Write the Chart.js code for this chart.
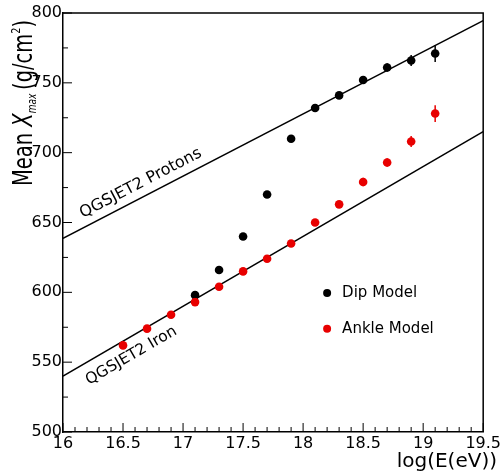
<!DOCTYPE html>
<html>
<head>
<meta charset="utf-8">
<script src="https://cdn.jsdelivr.net/npm/chart.js@4.4.1/dist/chart.umd.min.js"></script>
<style>
  html, body { margin: 0; padding: 0; background: #fff; }
  #chart { display: block; }
</style>
</head>
<body>
<canvas id="chart" width="503" height="473"></canvas>
<script>
// Dip model (black points)
const dipEnergy = [17.1, 17.3, 17.5, 17.7, 17.9, 18.1, 18.3, 18.5, 18.7, 18.9, 19.1];
const dipXmax   = [598, 616, 640, 670, 710, 732, 741, 752, 761, 766, 771];
const dipErr    = [2, 2, 2, 2, 2, 2, 2, 2, 3, 4, 6];

// Ankle model (red points)
const ankleEnergy = [16.5, 16.7, 16.9, 17.1, 17.3, 17.5, 17.7, 17.9, 18.1, 18.3, 18.5, 18.7, 18.9, 19.1];
const ankleXmax   = [562, 574, 584, 593, 604, 615, 624, 635, 650, 663, 679, 693, 708, 728];
const ankleErr    = [2, 2, 2, 2, 2, 2, 2, 2, 2, 2, 3, 3, 4, 6];

// QGSJET2 predictions (straight lines)
const lineEnergy = [16, 19.5];
const protonXmax = [638.6, 794.5];
const ironXmax   = [540, 715];

// axis ticks
const xMajor = [16, 16.5, 17, 17.5, 18, 18.5, 19, 19.5];
const yMajor = [500, 550, 600, 650, 700, 750, 800];
const xMinorStep = 0.1;
const yMinorStep = 25;

const FONT = '"DejaVu Sans", sans-serif';
const RED = '#e80000';

function pts(xs, ys) {
    return xs.map((x, i) => ({ x: x, y: ys[i] }));
}

// ROOT-style extras: frame, inner ticks, error bars, labels, legend
const decorations = {
    id: 'decorations',
    afterDatasetsDraw(chart) {
        const ctx = chart.ctx;
        const xs = chart.scales.x, ys = chart.scales.y;
        const a = chart.chartArea;

        ctx.save();
        ctx.strokeStyle = '#000';
        ctx.lineWidth = 1.5;
        ctx.beginPath();
        ctx.moveTo(a.left, a.top);
        ctx.lineTo(a.right, a.top);
        ctx.lineTo(a.right, a.bottom);
        ctx.stroke();

        // inner ticks, bottom axis
        ctx.lineWidth = 1;
        ctx.beginPath();
        for (let v = 16; v <= 19.5001; v += xMinorStep) {
            const isMajor = xMajor.some(m => Math.abs(m - v) < 1e-6);
            const px = xs.getPixelForValue(v);
            ctx.moveTo(px, a.bottom);
            ctx.lineTo(px, a.bottom - (isMajor ? 9 : 5));
        }
        // inner ticks, left axis
        for (let v = 500; v <= 800; v += yMinorStep) {
            const isMajor = yMajor.includes(v);
            const py = ys.getPixelForValue(v);
            ctx.moveTo(a.left, py);
            ctx.lineTo(a.left + (isMajor ? 9 : 5), py);
        }
        ctx.stroke();

        // error bars
        ctx.lineWidth = 1.5;
        const bars = [[dipEnergy, dipXmax, dipErr, '#000'], [ankleEnergy, ankleXmax, ankleErr, RED]];
        bars.forEach(([ex, ey, ee, col]) => {
            ctx.strokeStyle = col;
            ctx.beginPath();
            ex.forEach((x, i) => {
                const px = xs.getPixelForValue(x);
                ctx.moveTo(px, ys.getPixelForValue(ey[i] - ee[i]));
                ctx.lineTo(px, ys.getPixelForValue(ey[i] + ee[i]));
            });
            ctx.stroke();
        });

        // labels along the model lines
        function lineLabel(yv, text, xVal, offset, baseline, size) {
            const x0 = xs.getPixelForValue(lineEnergy[0]), y0 = ys.getPixelForValue(yv[0]);
            const x1 = xs.getPixelForValue(lineEnergy[1]), y1 = ys.getPixelForValue(yv[1]);
            const ang = Math.atan2(y1 - y0, x1 - x0);
            const px = xs.getPixelForValue(xVal);
            const py = y0 + (px - x0) * (y1 - y0) / (x1 - x0);
            ctx.save();
            ctx.translate(px, py);
            ctx.rotate(ang);
            ctx.fillStyle = '#000';
            ctx.font = size + 'px ' + FONT;
            ctx.textBaseline = baseline;
            ctx.textAlign = 'left';
            ctx.fillText(text, 0, offset);
            ctx.restore();
        }
        lineLabel(protonXmax, 'QGSJET2 Protons', 16.2, -9, 'alphabetic', 16);
        lineLabel(ironXmax, 'QGSJET2 Iron', 16.13, 9, 'top', 15.5);

        // legend
        const lx = xs.getPixelForValue(18.2);
        [[ys.getPixelForValue(599.5), '#000', 'Dip Model'], [ys.getPixelForValue(574), RED, 'Ankle Model']].forEach(([ly, col, txt]) => {
            ctx.fillStyle = col;
            ctx.beginPath();
            ctx.arc(lx, ly, 4, 0, Math.PI * 2);
            ctx.fill();
            ctx.fillStyle = '#000';
            ctx.font = '15px ' + FONT;
            ctx.textBaseline = 'middle';
            ctx.textAlign = 'left';
            ctx.fillText(txt, lx + 15, ly);
        });

        // y axis title (tall, narrow lettering)
        ctx.save();
        ctx.translate(32, 186);
        ctx.rotate(-Math.PI / 2);
        ctx.scale(0.75, 1);
        ctx.fillStyle = '#000';
        ctx.textBaseline = 'alphabetic';
        ctx.textAlign = 'left';
        let cx = 0;
        ctx.font = '26px ' + FONT;
        ctx.fillText('Mean ', cx, 0);
        cx += ctx.measureText('Mean ').width;
        ctx.font = 'italic 26px ' + FONT;
        ctx.fillText('X', cx, 0);
        cx += ctx.measureText('X').width;
        ctx.font = 'italic 12px ' + FONT;
        ctx.fillText('max', cx, 4);
        cx += ctx.measureText('max').width + 5;
        ctx.font = '26px ' + FONT;
        ctx.fillText('(g/cm', cx, 0);
        cx += ctx.measureText('(g/cm').width;
        ctx.font = '13px ' + FONT;
        ctx.fillText('2', cx, -12);
        cx += ctx.measureText('2').width;
        ctx.font = '26px ' + FONT;
        ctx.fillText(')', cx, 0);
        ctx.restore();

        // x axis title
        ctx.fillStyle = '#000';
        ctx.font = '20px ' + FONT;
        ctx.textAlign = 'right';
        ctx.textBaseline = 'alphabetic';
        ctx.fillText('log(E(eV))', 497, 467);

        ctx.restore();
    }
};

const ctx = document.getElementById('chart').getContext('2d');
const chart = new Chart(ctx, {
    type: 'scatter',
    data: {
        datasets: [
            {
                label: 'Ankle Model',
                data: pts(ankleEnergy, ankleXmax),
                backgroundColor: RED,
                borderColor: RED,
                pointRadius: 4.3,
                pointBorderWidth: 0,
                order: 1
            },
            {
                label: 'Dip Model',
                data: pts(dipEnergy, dipXmax),
                backgroundColor: '#000',
                borderColor: '#000',
                pointRadius: 4.3,
                pointBorderWidth: 0,
                order: 2
            },
            {
                label: 'QGSJET2 Protons',
                type: 'line',
                data: pts(lineEnergy, protonXmax),
                borderColor: '#000',
                borderWidth: 1.5,
                pointRadius: 0,
                fill: false,
                order: 3
            },
            {
                label: 'QGSJET2 Iron',
                type: 'line',
                data: pts(lineEnergy, ironXmax),
                borderColor: '#000',
                borderWidth: 1.5,
                pointRadius: 0,
                fill: false,
                order: 3
            }
        ]
    },
    options: {
        responsive: false,
        devicePixelRatio: 1,
        animation: false,
        layout: { padding: { top: 13, right: 18, left: 0, bottom: 0 } },
        plugins: {
            legend: { display: false },
            tooltip: { enabled: false }
        },
        scales: {
            x: {
                type: 'linear',
                min: 16,
                max: 19.5,
                grid: { display: false, drawTicks: false },
                border: { display: true, color: '#000', width: 1.5 },
                ticks: {
                    color: '#000', font: { family: FONT, size: 16 }, padding: 2, maxRotation: 0,
                    callback: v => String(v)
                },
                afterBuildTicks: scale => { scale.ticks = xMajor.map(v => ({ value: v })); },
                afterFit: scale => { scale.height = 41; }
            },
            y: {
                type: 'linear',
                min: 500,
                max: 800,
                grid: { display: false, drawTicks: false },
                border: { display: true, color: '#000', width: 1.5 },
                ticks: {
                    color: '#000', font: { family: FONT, size: 16 }, padding: 1,
                    callback: v => String(v)
                },
                afterBuildTicks: scale => { scale.ticks = yMajor.map(v => ({ value: v })); },
                afterFit: scale => { scale.height = undefined; scale.width = 63; }
            }
        }
    },
    plugins: [decorations]
});
</script>
</body>
</html>
